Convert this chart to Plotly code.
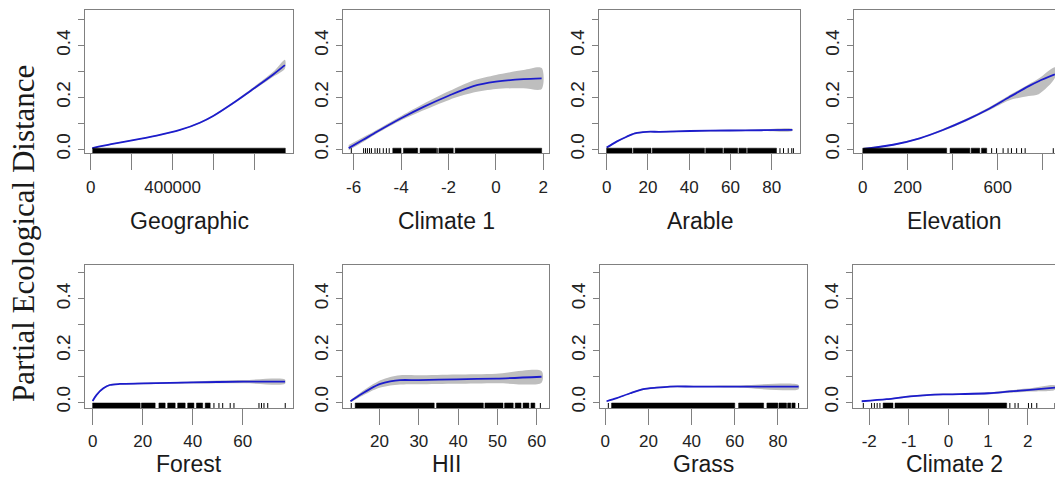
import plotly.graph_objects as go

W, H = 1055, 490

# ---------------- data ----------------
names = ["Geographic", "Climate 1", "Arable", "Elevation",
         "Forest", "HII", "Grass", "Climate 2"]

geo_x = [7800, 100000, 208000, 322000, 436000, 533000, 598000, 696000, 793000, 891000, 948000]
geo_fit = [0.004, 0.019, 0.035, 0.052, 0.074, 0.102, 0.128, 0.178, 0.232, 0.288, 0.324]
geo_lo = [0.002, 0.017, 0.033, 0.050, 0.072, 0.099, 0.125, 0.174, 0.227, 0.279, 0.310]
geo_hi = [0.006, 0.021, 0.037, 0.054, 0.076, 0.105, 0.131, 0.182, 0.238, 0.298, 0.345]

cl1_x = [-6.21, -5.6, -5.02, -3.96, -3.05, -1.97, -0.95, 0.0, 1.16, 1.93]
cl1_fit = [0.004, 0.036, 0.067, 0.121, 0.163, 0.207, 0.243, 0.260, 0.270, 0.273]
cl1_lo = [-0.004, 0.028, 0.060, 0.113, 0.150, 0.190, 0.218, 0.232, 0.235, 0.232]
cl1_hi = [0.016, 0.046, 0.075, 0.130, 0.175, 0.224, 0.265, 0.286, 0.305, 0.313]

ara_x = [0, 4.8, 9.7, 13.7, 19.4, 25.8, 40.4, 59.8, 75, 90]
ara_fit = [0.006, 0.029, 0.048, 0.061, 0.067, 0.067, 0.070, 0.072, 0.073, 0.074]
ara_lo = [0.003, 0.026, 0.045, 0.058, 0.064, 0.064, 0.067, 0.069, 0.070, 0.070]
ara_hi = [0.009, 0.032, 0.051, 0.064, 0.070, 0.070, 0.073, 0.075, 0.076, 0.078]

ele_x = [3, 135, 253, 356, 459, 562, 650, 738, 782, 854]
ele_fit = [0.001, 0.017, 0.042, 0.074, 0.112, 0.156, 0.200, 0.243, 0.262, 0.288]
ele_lo = [-0.002, 0.014, 0.039, 0.070, 0.107, 0.150, 0.188, 0.205, 0.212, 0.274]
ele_hi = [0.005, 0.020, 0.045, 0.078, 0.117, 0.162, 0.207, 0.250, 0.272, 0.316]

for_x = [0, 1.6, 4.3, 6.9, 10.9, 20.3, 40.3, 60.3, 76.9]
for_fit = [0.004, 0.028, 0.053, 0.066, 0.070, 0.072, 0.076, 0.079, 0.079]
for_lo = [0.001, 0.025, 0.050, 0.063, 0.067, 0.069, 0.072, 0.073, 0.071]
for_hi = [0.007, 0.031, 0.056, 0.069, 0.073, 0.075, 0.080, 0.085, 0.087]

hii_x = [12.6, 15.1, 17.6, 20.2, 22.7, 25.2, 30, 39.6, 49.7, 61.2]
hii_fit = [0.003, 0.028, 0.051, 0.070, 0.080, 0.085, 0.085, 0.088, 0.091, 0.098]
hii_lo = [-0.002, 0.020, 0.040, 0.056, 0.064, 0.068, 0.069, 0.071, 0.073, 0.075]
hii_hi = [0.008, 0.036, 0.062, 0.084, 0.097, 0.104, 0.104, 0.107, 0.110, 0.120]

gra_x = [0.6, 5.3, 11.5, 17.6, 23.8, 30, 40.9, 60, 89.6]
gra_fit = [0.003, 0.015, 0.034, 0.050, 0.056, 0.060, 0.060, 0.060, 0.060]
gra_lo = [0.001, 0.013, 0.032, 0.047, 0.053, 0.057, 0.057, 0.056, 0.050]
gra_hi = [0.005, 0.017, 0.036, 0.053, 0.059, 0.063, 0.063, 0.064, 0.066]

cl2_x = [-2.19, -1.56, -0.97, -0.46, 0.0, 1.01, 1.55, 2.06, 2.69]
cl2_fit = [0.003, 0.011, 0.022, 0.028, 0.030, 0.034, 0.041, 0.047, 0.056]
cl2_lo = [0.001, 0.009, 0.019, 0.025, 0.027, 0.030, 0.036, 0.041, 0.048]
cl2_hi = [0.005, 0.013, 0.025, 0.031, 0.033, 0.038, 0.046, 0.053, 0.064]

# rug: dense stretches (solid) and single ticks
geo_rug_solid = [[10000, 950000]]
geo_rug_ticks = []
cl1_rug_solid = [[-4.35, -4.0], [-3.9, -3.3], [-3.2, -2.5], [-2.4, -1.8], [-1.72, 1.93]]
cl1_rug_ticks = [-6.1, -5.58, -5.5, -5.42, -5.33, -5.25, -5.1, -5.0, -4.9, -4.75,
                 -4.62, -4.5, -3.35, -2.45]
ara_rug_solid = [[0, 12.3], [12.9, 21.5], [22.1, 47.4], [48, 56.2], [56.8, 63.5],
                 [64.1, 67.7], [68.3, 82.3]]
ara_rug_ticks = [84, 85.7, 88, 89.7, 90.5]
ele_rug_solid = [[0, 373], [388, 476], [482, 520], [528, 551]]
ele_rug_ticks = [573, 595, 624, 646, 661, 684, 706, 722, 847]
for_rug_solid = [[0, 19], [19.5, 25], [26.5, 29], [30, 33], [34, 37], [38, 40.5],
                 [41.5, 44], [45, 47]]
for_rug_ticks = [48.5, 50.5, 52, 55, 56.5, 66.5, 67.5, 68.5, 70, 77]
hii_rug_solid = [[13.8, 33.9], [34.5, 46.4], [46.8, 51.4], [51.8, 54], [54.5, 56],
                 [56.5, 58], [58.5, 59.5]]
hii_rug_ticks = [12.8, 60.9]
gra_rug_solid = [[2.9, 60], [61.8, 73.4], [74.9, 80], [80.5, 84], [84.5, 86], [86.5, 88]]
gra_rug_ticks = [1.4, 89.6]
cl2_rug_solid = [[-1.65, -1.4], [-1.35, 1.47]]
cl2_rug_ticks = [-2.15, -1.94, -1.87, -1.8, -1.73, 1.55, 1.68, 1.76, 2.02, 2.1, 2.23, 2.69]

# x ticks (values and labels)
geo_tv = [0, 200000, 400000, 600000, 800000]; geo_tt = ["0", "", "400000", "", ""]
cl1_tv = [-6, -4, -2, 0, 2]; cl1_tt = ["-6", "-4", "-2", "0", "2"]
ara_tv = [0, 20, 40, 60, 80]; ara_tt = ["0", "20", "40", "60", "80"]
ele_tv = [0, 200, 400, 600, 800]; ele_tt = ["0", "200", "", "600", ""]
for_tv = [0, 20, 40, 60]; for_tt = ["0", "20", "40", "60"]
hii_tv = [20, 30, 40, 50, 60]; hii_tt = ["20", "30", "40", "50", "60"]
gra_tv = [0, 20, 40, 60, 80]; gra_tt = ["0", "20", "40", "60", "80"]
cl2_tv = [-2, -1, 0, 1, 2]; cl2_tt = ["-2", "-1", "0", "1", "2"]

y_tv = [0.0, 0.1, 0.2, 0.3, 0.4, 0.5]
y_tt = ["0.0", "", "0.2", "", "0.4", ""]
ylabel = "Partial Ecological Distance"

# ---------------- layout geometry (pixels) ----------------
panels = [
    dict(x=geo_x, fit=geo_fit, lo=geo_lo, hi=geo_hi, rs=geo_rug_solid, rt=geo_rug_ticks,
         tv=geo_tv, tt=geo_tt, xr=[-27600, 987600], px=(85, 293), row=0),
    dict(x=cl1_x, fit=cl1_fit, lo=cl1_lo, hi=cl1_hi, rs=cl1_rug_solid, rt=cl1_rug_ticks,
         tv=cl1_tv, tt=cl1_tt, xr=[-6.45, 2.24], px=(343, 549), row=0),
    dict(x=ara_x, fit=ara_fit, lo=ara_lo, hi=ara_hi, rs=ara_rug_solid, rt=ara_rug_ticks,
         tv=ara_tv, tt=ara_tt, xr=[-3.7, 93.7], px=(599, 800), row=0),
    dict(x=ele_x, fit=ele_fit, lo=ele_lo, hi=ele_hi, rs=ele_rug_solid, rt=ele_rug_ticks,
         tv=ele_tv, tt=ele_tt, xr=[-39, 854.7], px=(854, 1055), row=0, cut=True),
    dict(x=for_x, fit=for_fit, lo=for_lo, hi=for_hi, rs=for_rug_solid, rt=for_rug_ticks,
         tv=for_tv, tt=for_tt, xr=[-3.04, 80.1], px=(85, 293), row=1),
    dict(x=hii_x, fit=hii_fit, lo=hii_lo, hi=hii_hi, rs=hii_rug_solid, rt=hii_rug_ticks,
         tv=hii_tv, tt=hii_tt, xr=[10.7, 63.1], px=(343, 549), row=1),
    dict(x=gra_x, fit=gra_fit, lo=gra_lo, hi=gra_hi, rs=gra_rug_solid, rt=gra_rug_ticks,
         tv=gra_tv, tt=gra_tt, xr=[-2.46, 93.5], px=(600, 807), row=1),
    dict(x=cl2_x, fit=cl2_fit, lo=cl2_lo, hi=cl2_hi, rs=cl2_rug_solid, rt=cl2_rug_ticks,
         tv=cl2_tv, tt=cl2_tt, xr=[-2.41, 2.69], px=(853, 1055), row=1, cut=True),
]
rows = [dict(top=10, bottom=155, yr=[-0.0152, 0.537], title_y=224),
        dict(top=268, bottom=413, yr=[-0.0229, 0.532], title_y=470)]

BOX = "#808080"
BLUE = "#1c1ccc"
BAND = "#bebebe"
FONT = "Liberation Sans, Arial, sans-serif"

fig = go.Figure()
layout = {}
annotations = []

for i, p in enumerate(panels):
    n = i + 1
    xa = "x" if n == 1 else f"x{n}"
    ya = "y" if n == 1 else f"y{n}"
    r = rows[p["row"]]
    ylo, yhi = r["yr"]
    rug_top = ylo + 5.0 * (yhi - ylo) / (r["bottom"] - r["top"])

    # confidence band
    fig.add_trace(go.Scatter(
        x=list(p["x"]) + list(p["x"])[::-1],
        y=list(p["hi"]) + list(p["lo"])[::-1],
        fill="toself", fillcolor=BAND, line=dict(width=0, shape="spline", smoothing=0.8),
        mode="lines", hoverinfo="skip", showlegend=False, xaxis=xa, yaxis=ya))
    # fitted spline
    fig.add_trace(go.Scatter(
        x=p["x"], y=p["fit"], mode="lines",
        line=dict(color=BLUE, width=1.8, shape="spline", smoothing=0.8),
        showlegend=False, xaxis=xa, yaxis=ya))
    # rug dense stretches
    rx, ry = [], []
    for a, b in p["rs"]:
        rx += [a, b, b, a, a, None]
        ry += [ylo, ylo, rug_top, rug_top, ylo, None]
    if rx:
        fig.add_trace(go.Scatter(
            x=rx, y=ry, fill="toself", fillcolor="black", mode="lines",
            line=dict(color="black", width=0.5), hoverinfo="skip",
            showlegend=False, xaxis=xa, yaxis=ya))
    # rug single ticks
    tx, ty = [], []
    for v in p["rt"]:
        tx += [v, v, None]
        ty += [ylo, rug_top, None]
    if tx:
        fig.add_trace(go.Scatter(
            x=tx, y=ty, mode="lines", line=dict(color="black", width=1),
            hoverinfo="skip", showlegend=False, xaxis=xa, yaxis=ya))

    x0, x1 = p["px"]
    cut = p.get("cut", False)
    layout["xaxis" if n == 1 else f"xaxis{n}"] = dict(
        domain=[x0 / W, min(1.0, x1 / W)], range=p["xr"], anchor=ya,
        showline=True, linecolor=BOX, linewidth=1, mirror=True,
        ticks="outside", ticklen=16, tickwidth=1, tickcolor=BOX,
        tickvals=p["tv"], ticktext=p["tt"], ticklabelstandoff=2,
        tickfont=dict(family=FONT, size=17, color="#222222"),
        showgrid=False, zeroline=False, fixedrange=True)
    layout["yaxis" if n == 1 else f"yaxis{n}"] = dict(
        domain=[1 - r["bottom"] / H, 1 - r["top"] / H], range=r["yr"], anchor=xa,
        showline=True, linecolor=BOX, linewidth=1, mirror=(not cut),
        ticks="outside", ticklen=6, tickwidth=1, tickcolor=BOX,
        tickvals=y_tv, ticktext=y_tt, tickangle=-90,
        tickfont=dict(family=FONT, size=19, color="#222222"),
        showgrid=False, zeroline=False, fixedrange=True)

    annotations.append(dict(
        text=names[i], xref="paper", yref="paper",
        x=((x0 + x1) / 2) / W, y=1 - r["title_y"] / H,
        xanchor="center", yanchor="middle",
        showarrow=False, font=dict(family=FONT, size=23, color="#1a1a1a")))

annotations.append(dict(
    text=ylabel, xref="paper", yref="paper", x=23 / W, y=1 - 237 / H,
    xanchor="center", yanchor="middle", textangle=-90, showarrow=False,
    font=dict(family="Liberation Serif, Times New Roman, serif", size=31, color="#1a1a1a")))

fig.update_layout(
    width=W, height=H, margin=dict(l=0, r=0, t=0, b=0),
    paper_bgcolor="white", plot_bgcolor="white",
    annotations=annotations, **layout)

fig.write_html("out.html", config={"displayModeBar": False})
